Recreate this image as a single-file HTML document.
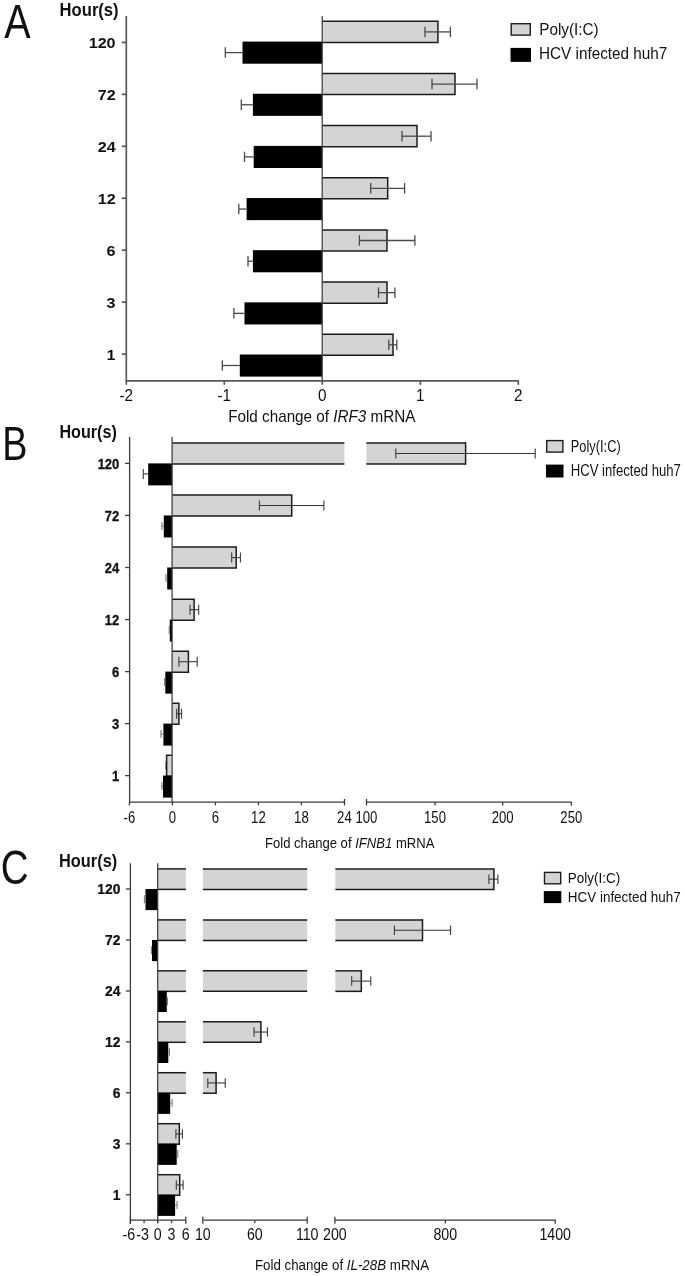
<!DOCTYPE html>
<html><head><meta charset="utf-8"><title>Figure</title>
<style>
html,body{margin:0;padding:0;background:#fff;}
svg{display:block;font-family:"Liberation Sans",sans-serif;fill:#111;will-change:transform;opacity:0.999;}
</style></head>
<body>
<svg width="685" height="1276" viewBox="0 0 685 1276">
<rect x="0" y="0" width="685" height="1276" fill="#ffffff"/>
<text transform="translate(4.30,37.80) scale(0.812,1)" font-size="48.7" text-anchor="start">A</text>
<text transform="translate(59.60,16.10) scale(0.87,1)" font-size="19.1" text-anchor="start" font-weight="bold">Hour(s)</text>
<path d="M322.20 21.30H437.90V42.40H322.20" fill="#d4d4d4" stroke="#1c1c1c" stroke-width="1.5" stroke-linejoin="miter"/>
<line x1="425.00" y1="31.90" x2="450.40" y2="31.90" stroke="#4a4a4a" stroke-width="1.3"/>
<line x1="425.00" y1="26.65" x2="425.00" y2="37.15" stroke="#4a4a4a" stroke-width="1.3"/>
<line x1="450.40" y1="26.65" x2="450.40" y2="37.15" stroke="#4a4a4a" stroke-width="1.3"/>
<rect x="242.50" y="41.60" width="79.70" height="22.10" fill="#000"/>
<line x1="225.30" y1="52.60" x2="242.50" y2="52.60" stroke="#4a4a4a" stroke-width="1.3"/>
<line x1="225.30" y1="47.35" x2="225.30" y2="57.85" stroke="#4a4a4a" stroke-width="1.3"/>
<line x1="121.80" y1="42.40" x2="126.30" y2="42.40" stroke="#585858" stroke-width="1.7"/>
<text transform="translate(115.60,47.90) scale(1.055,1)" font-size="15.3" text-anchor="end" font-weight="bold">120</text>
<path d="M322.20 73.45H455.00V94.55H322.20" fill="#d4d4d4" stroke="#1c1c1c" stroke-width="1.5" stroke-linejoin="miter"/>
<line x1="432.00" y1="84.05" x2="477.00" y2="84.05" stroke="#4a4a4a" stroke-width="1.3"/>
<line x1="432.00" y1="78.80" x2="432.00" y2="89.30" stroke="#4a4a4a" stroke-width="1.3"/>
<line x1="477.00" y1="78.80" x2="477.00" y2="89.30" stroke="#4a4a4a" stroke-width="1.3"/>
<rect x="252.90" y="93.75" width="69.30" height="22.10" fill="#000"/>
<line x1="241.30" y1="104.75" x2="252.90" y2="104.75" stroke="#4a4a4a" stroke-width="1.3"/>
<line x1="241.30" y1="99.50" x2="241.30" y2="110.00" stroke="#4a4a4a" stroke-width="1.3"/>
<line x1="121.80" y1="94.35" x2="126.30" y2="94.35" stroke="#585858" stroke-width="1.7"/>
<text transform="translate(115.60,99.85) scale(1.055,1)" font-size="15.3" text-anchor="end" font-weight="bold">72</text>
<path d="M322.20 125.60H417.00V146.70H322.20" fill="#d4d4d4" stroke="#1c1c1c" stroke-width="1.5" stroke-linejoin="miter"/>
<line x1="402.00" y1="136.20" x2="431.00" y2="136.20" stroke="#4a4a4a" stroke-width="1.3"/>
<line x1="402.00" y1="130.95" x2="402.00" y2="141.45" stroke="#4a4a4a" stroke-width="1.3"/>
<line x1="431.00" y1="130.95" x2="431.00" y2="141.45" stroke="#4a4a4a" stroke-width="1.3"/>
<rect x="253.70" y="145.90" width="68.50" height="22.10" fill="#000"/>
<line x1="244.50" y1="156.90" x2="253.70" y2="156.90" stroke="#4a4a4a" stroke-width="1.3"/>
<line x1="244.50" y1="151.65" x2="244.50" y2="162.15" stroke="#4a4a4a" stroke-width="1.3"/>
<line x1="121.80" y1="146.30" x2="126.30" y2="146.30" stroke="#585858" stroke-width="1.7"/>
<text transform="translate(115.60,151.80) scale(1.055,1)" font-size="15.3" text-anchor="end" font-weight="bold">24</text>
<path d="M322.20 177.75H387.70V198.85H322.20" fill="#d4d4d4" stroke="#1c1c1c" stroke-width="1.5" stroke-linejoin="miter"/>
<line x1="370.70" y1="188.35" x2="404.60" y2="188.35" stroke="#4a4a4a" stroke-width="1.3"/>
<line x1="370.70" y1="183.10" x2="370.70" y2="193.60" stroke="#4a4a4a" stroke-width="1.3"/>
<line x1="404.60" y1="183.10" x2="404.60" y2="193.60" stroke="#4a4a4a" stroke-width="1.3"/>
<rect x="246.60" y="198.05" width="75.60" height="22.10" fill="#000"/>
<line x1="238.80" y1="209.05" x2="246.60" y2="209.05" stroke="#4a4a4a" stroke-width="1.3"/>
<line x1="238.80" y1="203.80" x2="238.80" y2="214.30" stroke="#4a4a4a" stroke-width="1.3"/>
<line x1="121.80" y1="198.25" x2="126.30" y2="198.25" stroke="#585858" stroke-width="1.7"/>
<text transform="translate(115.60,203.75) scale(1.055,1)" font-size="15.3" text-anchor="end" font-weight="bold">12</text>
<path d="M322.20 229.90H387.00V251.00H322.20" fill="#d4d4d4" stroke="#1c1c1c" stroke-width="1.5" stroke-linejoin="miter"/>
<line x1="359.40" y1="240.50" x2="414.90" y2="240.50" stroke="#4a4a4a" stroke-width="1.3"/>
<line x1="359.40" y1="235.25" x2="359.40" y2="245.75" stroke="#4a4a4a" stroke-width="1.3"/>
<line x1="414.90" y1="235.25" x2="414.90" y2="245.75" stroke="#4a4a4a" stroke-width="1.3"/>
<rect x="252.90" y="250.20" width="69.30" height="22.10" fill="#000"/>
<line x1="248.00" y1="261.20" x2="252.90" y2="261.20" stroke="#4a4a4a" stroke-width="1.3"/>
<line x1="248.00" y1="255.95" x2="248.00" y2="266.45" stroke="#4a4a4a" stroke-width="1.3"/>
<line x1="121.80" y1="250.20" x2="126.30" y2="250.20" stroke="#585858" stroke-width="1.7"/>
<text transform="translate(115.60,255.70) scale(1.055,1)" font-size="15.3" text-anchor="end" font-weight="bold">6</text>
<path d="M322.20 282.05H387.00V303.15H322.20" fill="#d4d4d4" stroke="#1c1c1c" stroke-width="1.5" stroke-linejoin="miter"/>
<line x1="378.50" y1="292.65" x2="394.90" y2="292.65" stroke="#4a4a4a" stroke-width="1.3"/>
<line x1="378.50" y1="287.40" x2="378.50" y2="297.90" stroke="#4a4a4a" stroke-width="1.3"/>
<line x1="394.90" y1="287.40" x2="394.90" y2="297.90" stroke="#4a4a4a" stroke-width="1.3"/>
<rect x="244.50" y="302.35" width="77.70" height="22.10" fill="#000"/>
<line x1="233.90" y1="313.35" x2="244.50" y2="313.35" stroke="#4a4a4a" stroke-width="1.3"/>
<line x1="233.90" y1="308.10" x2="233.90" y2="318.60" stroke="#4a4a4a" stroke-width="1.3"/>
<line x1="121.80" y1="302.15" x2="126.30" y2="302.15" stroke="#585858" stroke-width="1.7"/>
<text transform="translate(115.60,307.65) scale(1.055,1)" font-size="15.3" text-anchor="end" font-weight="bold">3</text>
<path d="M322.20 334.20H393.00V355.30H322.20" fill="#d4d4d4" stroke="#1c1c1c" stroke-width="1.5" stroke-linejoin="miter"/>
<line x1="388.80" y1="344.80" x2="396.80" y2="344.80" stroke="#4a4a4a" stroke-width="1.3"/>
<line x1="388.80" y1="339.55" x2="388.80" y2="350.05" stroke="#4a4a4a" stroke-width="1.3"/>
<line x1="396.80" y1="339.55" x2="396.80" y2="350.05" stroke="#4a4a4a" stroke-width="1.3"/>
<rect x="239.80" y="354.50" width="82.40" height="22.10" fill="#000"/>
<line x1="222.30" y1="365.50" x2="239.80" y2="365.50" stroke="#4a4a4a" stroke-width="1.3"/>
<line x1="222.30" y1="360.25" x2="222.30" y2="370.75" stroke="#4a4a4a" stroke-width="1.3"/>
<line x1="121.80" y1="354.10" x2="126.30" y2="354.10" stroke="#585858" stroke-width="1.7"/>
<text transform="translate(115.60,359.60) scale(1.055,1)" font-size="15.3" text-anchor="end" font-weight="bold">1</text>
<line x1="126.30" y1="16.00" x2="126.30" y2="380.80" stroke="#585858" stroke-width="1.7"/>
<line x1="322.20" y1="16.00" x2="322.20" y2="381.40" stroke="#3c3c3c" stroke-width="1.25"/>
<line x1="125.70" y1="380.80" x2="518.60" y2="380.80" stroke="#585858" stroke-width="1.7"/>
<line x1="126.30" y1="380.80" x2="126.30" y2="384.80" stroke="#585858" stroke-width="1.7"/>
<text transform="translate(126.30,401.40) scale(0.96,1)" font-size="15.9" text-anchor="middle">-2</text>
<line x1="224.30" y1="380.80" x2="224.30" y2="384.80" stroke="#585858" stroke-width="1.7"/>
<text transform="translate(224.30,401.40) scale(0.96,1)" font-size="15.9" text-anchor="middle">-1</text>
<line x1="322.30" y1="380.80" x2="322.30" y2="384.80" stroke="#585858" stroke-width="1.7"/>
<text transform="translate(322.30,401.40) scale(0.96,1)" font-size="15.9" text-anchor="middle">0</text>
<line x1="420.30" y1="380.80" x2="420.30" y2="384.80" stroke="#585858" stroke-width="1.7"/>
<text transform="translate(420.30,401.40) scale(0.96,1)" font-size="15.9" text-anchor="middle">1</text>
<line x1="518.30" y1="380.80" x2="518.30" y2="384.80" stroke="#585858" stroke-width="1.7"/>
<text transform="translate(518.30,401.40) scale(0.96,1)" font-size="15.9" text-anchor="middle">2</text>
<text transform="translate(228.20,422.30) scale(0.965,1)" font-size="15.8" text-anchor="start">Fold change of <tspan font-style="italic">IRF3</tspan> mRNA</text>
<rect x="511.20" y="23.70" width="19.10" height="11.40" fill="#d4d4d4" stroke="#1c1c1c" stroke-width="1.4"/>
<rect x="510.50" y="47.90" width="20.50" height="14.00" fill="#000"/>
<text transform="translate(539.20,34.50) scale(0.98,1)" font-size="15.6" text-anchor="start">Poly(I:C)</text>
<text transform="translate(539.00,59.00) scale(0.98,1)" font-size="15.6" text-anchor="start">HCV infected huh7</text>
<text transform="translate(2.30,459.90) scale(0.773,1)" font-size="48.8" text-anchor="start">B</text>
<text transform="translate(59.40,438.30) scale(0.846,1)" font-size="19.1" text-anchor="start" font-weight="bold">Hour(s)</text>
<rect x="172.10" y="443.00" width="172.30" height="21.00" fill="#d4d4d4"/>
<line x1="172.10" y1="443.00" x2="344.40" y2="443.00" stroke="#1c1c1c" stroke-width="1.5"/>
<line x1="172.10" y1="464.00" x2="344.40" y2="464.00" stroke="#1c1c1c" stroke-width="1.5"/>
<rect x="366.30" y="443.00" width="99.50" height="21.00" fill="#d4d4d4"/>
<line x1="366.30" y1="443.00" x2="465.80" y2="443.00" stroke="#1c1c1c" stroke-width="1.5"/>
<line x1="366.30" y1="464.00" x2="465.80" y2="464.00" stroke="#1c1c1c" stroke-width="1.5"/>
<line x1="465.60" y1="442.30" x2="465.60" y2="464.70" stroke="#1c1c1c" stroke-width="1.5"/>
<line x1="395.80" y1="453.50" x2="535.20" y2="453.50" stroke="#333333" stroke-width="1.05"/>
<line x1="395.80" y1="448.50" x2="395.80" y2="458.50" stroke="#333333" stroke-width="1.05"/>
<line x1="535.20" y1="448.50" x2="535.20" y2="458.50" stroke="#333333" stroke-width="1.05"/>
<rect x="148.20" y="463.40" width="23.90" height="22.00" fill="#000"/>
<line x1="143.30" y1="473.90" x2="148.20" y2="473.90" stroke="#333333" stroke-width="1.05"/>
<line x1="143.30" y1="468.90" x2="143.30" y2="478.90" stroke="#333333" stroke-width="1.05"/>
<line x1="125.10" y1="463.40" x2="129.60" y2="463.40" stroke="#3c3c3c" stroke-width="1.3"/>
<text transform="translate(119.30,468.75) scale(0.866,1)" font-size="15.0" text-anchor="end" font-weight="bold" stroke="#111" stroke-width="0.3">120</text>
<path d="M172.10 495.05H291.70V516.05H172.10" fill="#d4d4d4" stroke="#1c1c1c" stroke-width="1.5" stroke-linejoin="miter"/>
<line x1="259.40" y1="505.55" x2="323.90" y2="505.55" stroke="#333333" stroke-width="1.05"/>
<line x1="259.40" y1="500.55" x2="259.40" y2="510.55" stroke="#333333" stroke-width="1.05"/>
<line x1="323.90" y1="500.55" x2="323.90" y2="510.55" stroke="#333333" stroke-width="1.05"/>
<rect x="163.80" y="515.45" width="8.30" height="22.00" fill="#000"/>
<line x1="161.90" y1="525.95" x2="163.80" y2="525.95" stroke="#777" stroke-width="1.05"/>
<line x1="161.90" y1="521.95" x2="161.90" y2="529.95" stroke="#777" stroke-width="1.05"/>
<line x1="125.10" y1="515.45" x2="129.60" y2="515.45" stroke="#3c3c3c" stroke-width="1.3"/>
<text transform="translate(119.30,520.80) scale(0.866,1)" font-size="15.0" text-anchor="end" font-weight="bold" stroke="#111" stroke-width="0.3">72</text>
<path d="M172.10 547.10H236.20V568.10H172.10" fill="#d4d4d4" stroke="#1c1c1c" stroke-width="1.5" stroke-linejoin="miter"/>
<line x1="231.70" y1="557.60" x2="240.40" y2="557.60" stroke="#333333" stroke-width="1.05"/>
<line x1="231.70" y1="552.60" x2="231.70" y2="562.60" stroke="#333333" stroke-width="1.05"/>
<line x1="240.40" y1="552.60" x2="240.40" y2="562.60" stroke="#333333" stroke-width="1.05"/>
<rect x="167.20" y="567.50" width="4.90" height="22.00" fill="#000"/>
<line x1="166.00" y1="578.00" x2="167.20" y2="578.00" stroke="#777" stroke-width="1.05"/>
<line x1="166.00" y1="574.00" x2="166.00" y2="582.00" stroke="#777" stroke-width="1.05"/>
<line x1="125.10" y1="567.50" x2="129.60" y2="567.50" stroke="#3c3c3c" stroke-width="1.3"/>
<text transform="translate(119.30,572.85) scale(0.866,1)" font-size="15.0" text-anchor="end" font-weight="bold" stroke="#111" stroke-width="0.3">24</text>
<path d="M172.10 599.15H194.10V620.15H172.10" fill="#d4d4d4" stroke="#1c1c1c" stroke-width="1.5" stroke-linejoin="miter"/>
<line x1="190.00" y1="609.65" x2="198.70" y2="609.65" stroke="#333333" stroke-width="1.05"/>
<line x1="190.00" y1="604.65" x2="190.00" y2="614.65" stroke="#333333" stroke-width="1.05"/>
<line x1="198.70" y1="604.65" x2="198.70" y2="614.65" stroke="#333333" stroke-width="1.05"/>
<rect x="169.80" y="619.55" width="2.30" height="22.00" fill="#000"/>
<line x1="169.20" y1="630.05" x2="169.80" y2="630.05" stroke="#777" stroke-width="1.05"/>
<line x1="169.20" y1="626.05" x2="169.20" y2="634.05" stroke="#777" stroke-width="1.05"/>
<line x1="125.10" y1="619.55" x2="129.60" y2="619.55" stroke="#3c3c3c" stroke-width="1.3"/>
<text transform="translate(119.30,624.90) scale(0.866,1)" font-size="15.0" text-anchor="end" font-weight="bold" stroke="#111" stroke-width="0.3">12</text>
<path d="M172.10 651.20H188.40V672.20H172.10" fill="#d4d4d4" stroke="#1c1c1c" stroke-width="1.5" stroke-linejoin="miter"/>
<line x1="178.90" y1="661.70" x2="197.20" y2="661.70" stroke="#333333" stroke-width="1.05"/>
<line x1="178.90" y1="656.70" x2="178.90" y2="666.70" stroke="#333333" stroke-width="1.05"/>
<line x1="197.20" y1="656.70" x2="197.20" y2="666.70" stroke="#333333" stroke-width="1.05"/>
<rect x="165.30" y="671.60" width="6.80" height="22.00" fill="#000"/>
<line x1="164.60" y1="682.10" x2="165.30" y2="682.10" stroke="#777" stroke-width="1.05"/>
<line x1="164.60" y1="678.10" x2="164.60" y2="686.10" stroke="#777" stroke-width="1.05"/>
<line x1="125.10" y1="671.60" x2="129.60" y2="671.60" stroke="#3c3c3c" stroke-width="1.3"/>
<text transform="translate(119.30,676.95) scale(0.866,1)" font-size="15.0" text-anchor="end" font-weight="bold" stroke="#111" stroke-width="0.3">6</text>
<path d="M172.10 703.20H178.90V724.20H172.10" fill="#d4d4d4" stroke="#1c1c1c" stroke-width="1.5" stroke-linejoin="miter"/>
<line x1="176.70" y1="713.70" x2="181.60" y2="713.70" stroke="#333333" stroke-width="1.05"/>
<line x1="176.70" y1="708.70" x2="176.70" y2="718.70" stroke="#333333" stroke-width="1.05"/>
<line x1="181.60" y1="708.70" x2="181.60" y2="718.70" stroke="#333333" stroke-width="1.05"/>
<rect x="163.40" y="723.60" width="8.70" height="22.00" fill="#000"/>
<line x1="161.00" y1="734.10" x2="163.40" y2="734.10" stroke="#777" stroke-width="1.05"/>
<line x1="161.00" y1="730.10" x2="161.00" y2="738.10" stroke="#777" stroke-width="1.05"/>
<line x1="125.10" y1="723.60" x2="129.60" y2="723.60" stroke="#3c3c3c" stroke-width="1.3"/>
<text transform="translate(119.30,728.95) scale(0.866,1)" font-size="15.0" text-anchor="end" font-weight="bold" stroke="#111" stroke-width="0.3">3</text>
<path d="M172.10 755.20H166.60V776.20H172.10" fill="#d4d4d4" stroke="#1c1c1c" stroke-width="1.5" stroke-linejoin="miter"/>
<line x1="166.30" y1="761.60" x2="166.30" y2="769.60" stroke="#222" stroke-width="1.6"/>
<rect x="163.00" y="775.60" width="9.10" height="22.00" fill="#000"/>
<line x1="161.90" y1="786.10" x2="163.00" y2="786.10" stroke="#777" stroke-width="1.05"/>
<line x1="161.90" y1="782.10" x2="161.90" y2="790.10" stroke="#777" stroke-width="1.05"/>
<line x1="125.10" y1="775.60" x2="129.60" y2="775.60" stroke="#3c3c3c" stroke-width="1.3"/>
<text transform="translate(119.30,780.95) scale(0.866,1)" font-size="15.0" text-anchor="end" font-weight="bold" stroke="#111" stroke-width="0.3">1</text>
<line x1="129.60" y1="436.90" x2="129.60" y2="802.20" stroke="#3c3c3c" stroke-width="1.3"/>
<line x1="172.10" y1="436.90" x2="172.10" y2="802.80" stroke="#3c3c3c" stroke-width="1.25"/>
<line x1="129.00" y1="802.20" x2="344.40" y2="802.20" stroke="#3c3c3c" stroke-width="1.3"/>
<line x1="366.40" y1="802.20" x2="571.30" y2="802.20" stroke="#3c3c3c" stroke-width="1.3"/>
<line x1="129.40" y1="802.20" x2="129.40" y2="805.40" stroke="#3c3c3c" stroke-width="1.3"/>
<text transform="translate(129.40,822.60) scale(0.82,1)" font-size="16" text-anchor="middle">-6</text>
<line x1="172.40" y1="802.20" x2="172.40" y2="805.40" stroke="#3c3c3c" stroke-width="1.3"/>
<text transform="translate(172.40,822.60) scale(0.82,1)" font-size="16" text-anchor="middle">0</text>
<line x1="215.40" y1="802.20" x2="215.40" y2="805.40" stroke="#3c3c3c" stroke-width="1.3"/>
<text transform="translate(215.40,822.60) scale(0.82,1)" font-size="16" text-anchor="middle">6</text>
<line x1="258.40" y1="802.20" x2="258.40" y2="805.40" stroke="#3c3c3c" stroke-width="1.3"/>
<text transform="translate(258.40,822.60) scale(0.82,1)" font-size="16" text-anchor="middle">12</text>
<line x1="301.40" y1="802.20" x2="301.40" y2="805.40" stroke="#3c3c3c" stroke-width="1.3"/>
<text transform="translate(301.40,822.60) scale(0.82,1)" font-size="16" text-anchor="middle">18</text>
<text transform="translate(344.40,822.60) scale(0.82,1)" font-size="16" text-anchor="middle">24</text>
<line x1="344.50" y1="799.00" x2="344.50" y2="805.40" stroke="#3c3c3c" stroke-width="1.3"/>
<line x1="366.50" y1="799.00" x2="366.50" y2="805.40" stroke="#3c3c3c" stroke-width="1.3"/>
<line x1="571.40" y1="801.60" x2="571.40" y2="805.70" stroke="#3c3c3c" stroke-width="1.3"/>
<text transform="translate(366.40,822.60) scale(0.82,1)" font-size="16" text-anchor="middle">100</text>
<line x1="435.00" y1="802.20" x2="435.00" y2="805.40" stroke="#3c3c3c" stroke-width="1.3"/>
<text transform="translate(435.00,822.60) scale(0.82,1)" font-size="16" text-anchor="middle">150</text>
<line x1="502.70" y1="802.20" x2="502.70" y2="805.40" stroke="#3c3c3c" stroke-width="1.3"/>
<text transform="translate(502.70,822.60) scale(0.82,1)" font-size="16" text-anchor="middle">200</text>
<text transform="translate(571.30,822.60) scale(0.82,1)" font-size="16" text-anchor="middle">250</text>
<text transform="translate(265.00,847.70) scale(0.873,1)" font-size="15.0" text-anchor="start">Fold change of <tspan font-style="italic">IFNB1</tspan> mRNA</text>
<rect x="546.70" y="440.60" width="16.20" height="11.50" fill="#d4d4d4" stroke="#1c1c1c" stroke-width="1.4"/>
<rect x="546.00" y="464.60" width="17.50" height="12.90" fill="#000"/>
<text transform="translate(570.80,451.90) scale(0.808,1)" font-size="15.9" text-anchor="start">Poly(I:C)</text>
<text transform="translate(570.70,476.40) scale(0.826,1)" font-size="15.9" text-anchor="start">HCV infected huh7</text>
<text transform="translate(0.70,884.30) scale(0.79,1)" font-size="48.8" text-anchor="start">C</text>
<text transform="translate(59.00,866.80) scale(0.89,1)" font-size="18.4" text-anchor="start" font-weight="bold">Hour(s)</text>
<rect x="157.70" y="868.90" width="28.20" height="20.50" fill="#d4d4d4"/>
<line x1="157.70" y1="868.90" x2="185.90" y2="868.90" stroke="#1c1c1c" stroke-width="1.5"/>
<line x1="157.70" y1="889.40" x2="185.90" y2="889.40" stroke="#1c1c1c" stroke-width="1.5"/>
<rect x="202.90" y="868.90" width="104.30" height="20.50" fill="#d4d4d4"/>
<line x1="202.90" y1="868.90" x2="307.20" y2="868.90" stroke="#1c1c1c" stroke-width="1.5"/>
<line x1="202.90" y1="889.40" x2="307.20" y2="889.40" stroke="#1c1c1c" stroke-width="1.5"/>
<rect x="335.40" y="868.90" width="158.50" height="20.50" fill="#d4d4d4"/>
<line x1="335.40" y1="868.90" x2="493.90" y2="868.90" stroke="#1c1c1c" stroke-width="1.5"/>
<line x1="335.40" y1="889.40" x2="493.90" y2="889.40" stroke="#1c1c1c" stroke-width="1.5"/>
<line x1="493.90" y1="868.15" x2="493.90" y2="890.15" stroke="#1c1c1c" stroke-width="1.5"/>
<line x1="488.90" y1="879.15" x2="497.90" y2="879.15" stroke="#333333" stroke-width="1.05"/>
<line x1="488.90" y1="874.40" x2="488.90" y2="883.90" stroke="#333333" stroke-width="1.05"/>
<line x1="497.90" y1="874.40" x2="497.90" y2="883.90" stroke="#333333" stroke-width="1.05"/>
<rect x="145.50" y="889.00" width="12.20" height="21.10" fill="#000"/>
<line x1="144.40" y1="899.30" x2="145.50" y2="899.30" stroke="#777" stroke-width="1.05"/>
<line x1="144.40" y1="895.30" x2="144.40" y2="903.30" stroke="#777" stroke-width="1.05"/>
<line x1="125.90" y1="889.00" x2="130.40" y2="889.00" stroke="#3c3c3c" stroke-width="1.3"/>
<text transform="translate(120.40,894.20) scale(0.91,1)" font-size="15.2" text-anchor="end" font-weight="bold" stroke="#111" stroke-width="0.25">120</text>
<rect x="157.70" y="919.90" width="28.20" height="20.50" fill="#d4d4d4"/>
<line x1="157.70" y1="919.90" x2="185.90" y2="919.90" stroke="#1c1c1c" stroke-width="1.5"/>
<line x1="157.70" y1="940.40" x2="185.90" y2="940.40" stroke="#1c1c1c" stroke-width="1.5"/>
<rect x="202.90" y="919.90" width="104.30" height="20.50" fill="#d4d4d4"/>
<line x1="202.90" y1="919.90" x2="307.20" y2="919.90" stroke="#1c1c1c" stroke-width="1.5"/>
<line x1="202.90" y1="940.40" x2="307.20" y2="940.40" stroke="#1c1c1c" stroke-width="1.5"/>
<rect x="335.40" y="919.90" width="87.10" height="20.50" fill="#d4d4d4"/>
<line x1="335.40" y1="919.90" x2="422.50" y2="919.90" stroke="#1c1c1c" stroke-width="1.5"/>
<line x1="335.40" y1="940.40" x2="422.50" y2="940.40" stroke="#1c1c1c" stroke-width="1.5"/>
<line x1="422.50" y1="919.15" x2="422.50" y2="941.15" stroke="#1c1c1c" stroke-width="1.5"/>
<line x1="394.40" y1="930.15" x2="450.60" y2="930.15" stroke="#333333" stroke-width="1.05"/>
<line x1="394.40" y1="925.40" x2="394.40" y2="934.90" stroke="#333333" stroke-width="1.05"/>
<line x1="450.60" y1="925.40" x2="450.60" y2="934.90" stroke="#333333" stroke-width="1.05"/>
<rect x="152.00" y="940.00" width="5.70" height="21.10" fill="#000"/>
<line x1="151.40" y1="950.30" x2="152.00" y2="950.30" stroke="#777" stroke-width="1.05"/>
<line x1="151.40" y1="946.30" x2="151.40" y2="954.30" stroke="#777" stroke-width="1.05"/>
<line x1="125.90" y1="940.00" x2="130.40" y2="940.00" stroke="#3c3c3c" stroke-width="1.3"/>
<text transform="translate(120.40,945.20) scale(0.91,1)" font-size="15.2" text-anchor="end" font-weight="bold" stroke="#111" stroke-width="0.25">72</text>
<rect x="157.70" y="970.85" width="28.20" height="20.50" fill="#d4d4d4"/>
<line x1="157.70" y1="970.85" x2="185.90" y2="970.85" stroke="#1c1c1c" stroke-width="1.5"/>
<line x1="157.70" y1="991.35" x2="185.90" y2="991.35" stroke="#1c1c1c" stroke-width="1.5"/>
<rect x="202.90" y="970.85" width="104.30" height="20.50" fill="#d4d4d4"/>
<line x1="202.90" y1="970.85" x2="307.20" y2="970.85" stroke="#1c1c1c" stroke-width="1.5"/>
<line x1="202.90" y1="991.35" x2="307.20" y2="991.35" stroke="#1c1c1c" stroke-width="1.5"/>
<rect x="335.40" y="970.85" width="25.90" height="20.50" fill="#d4d4d4"/>
<line x1="335.40" y1="970.85" x2="361.30" y2="970.85" stroke="#1c1c1c" stroke-width="1.5"/>
<line x1="335.40" y1="991.35" x2="361.30" y2="991.35" stroke="#1c1c1c" stroke-width="1.5"/>
<line x1="361.30" y1="970.10" x2="361.30" y2="992.10" stroke="#1c1c1c" stroke-width="1.5"/>
<line x1="351.70" y1="981.10" x2="370.80" y2="981.10" stroke="#333333" stroke-width="1.05"/>
<line x1="351.70" y1="976.35" x2="351.70" y2="985.85" stroke="#333333" stroke-width="1.05"/>
<line x1="370.80" y1="976.35" x2="370.80" y2="985.85" stroke="#333333" stroke-width="1.05"/>
<rect x="157.70" y="990.95" width="9.10" height="21.10" fill="#000"/>
<line x1="166.80" y1="1001.25" x2="167.40" y2="1001.25" stroke="#777" stroke-width="1.05"/>
<line x1="167.40" y1="997.25" x2="167.40" y2="1005.25" stroke="#777" stroke-width="1.05"/>
<line x1="125.90" y1="990.95" x2="130.40" y2="990.95" stroke="#3c3c3c" stroke-width="1.3"/>
<text transform="translate(120.40,996.15) scale(0.91,1)" font-size="15.2" text-anchor="end" font-weight="bold" stroke="#111" stroke-width="0.25">24</text>
<rect x="157.70" y="1021.80" width="28.20" height="20.50" fill="#d4d4d4"/>
<line x1="157.70" y1="1021.80" x2="185.90" y2="1021.80" stroke="#1c1c1c" stroke-width="1.5"/>
<line x1="157.70" y1="1042.30" x2="185.90" y2="1042.30" stroke="#1c1c1c" stroke-width="1.5"/>
<rect x="202.90" y="1021.80" width="58.00" height="20.50" fill="#d4d4d4"/>
<line x1="202.90" y1="1021.80" x2="260.90" y2="1021.80" stroke="#1c1c1c" stroke-width="1.5"/>
<line x1="202.90" y1="1042.30" x2="260.90" y2="1042.30" stroke="#1c1c1c" stroke-width="1.5"/>
<line x1="260.90" y1="1021.05" x2="260.90" y2="1043.05" stroke="#1c1c1c" stroke-width="1.5"/>
<line x1="254.00" y1="1032.05" x2="267.40" y2="1032.05" stroke="#333333" stroke-width="1.05"/>
<line x1="254.00" y1="1027.30" x2="254.00" y2="1036.80" stroke="#333333" stroke-width="1.05"/>
<line x1="267.40" y1="1027.30" x2="267.40" y2="1036.80" stroke="#333333" stroke-width="1.05"/>
<rect x="157.70" y="1041.90" width="10.60" height="21.10" fill="#000"/>
<line x1="168.30" y1="1052.20" x2="169.50" y2="1052.20" stroke="#777" stroke-width="1.05"/>
<line x1="169.50" y1="1048.20" x2="169.50" y2="1056.20" stroke="#777" stroke-width="1.05"/>
<line x1="125.90" y1="1041.90" x2="130.40" y2="1041.90" stroke="#3c3c3c" stroke-width="1.3"/>
<text transform="translate(120.40,1047.10) scale(0.91,1)" font-size="15.2" text-anchor="end" font-weight="bold" stroke="#111" stroke-width="0.25">12</text>
<rect x="157.70" y="1072.70" width="28.20" height="20.50" fill="#d4d4d4"/>
<line x1="157.70" y1="1072.70" x2="185.90" y2="1072.70" stroke="#1c1c1c" stroke-width="1.5"/>
<line x1="157.70" y1="1093.20" x2="185.90" y2="1093.20" stroke="#1c1c1c" stroke-width="1.5"/>
<rect x="202.90" y="1072.70" width="13.20" height="20.50" fill="#d4d4d4"/>
<line x1="202.90" y1="1072.70" x2="216.10" y2="1072.70" stroke="#1c1c1c" stroke-width="1.5"/>
<line x1="202.90" y1="1093.20" x2="216.10" y2="1093.20" stroke="#1c1c1c" stroke-width="1.5"/>
<line x1="216.10" y1="1071.95" x2="216.10" y2="1093.95" stroke="#1c1c1c" stroke-width="1.5"/>
<line x1="207.80" y1="1082.95" x2="225.20" y2="1082.95" stroke="#333333" stroke-width="1.05"/>
<line x1="207.80" y1="1078.20" x2="207.80" y2="1087.70" stroke="#333333" stroke-width="1.05"/>
<line x1="225.20" y1="1078.20" x2="225.20" y2="1087.70" stroke="#333333" stroke-width="1.05"/>
<rect x="157.70" y="1092.80" width="12.50" height="21.10" fill="#000"/>
<line x1="170.20" y1="1103.10" x2="172.10" y2="1103.10" stroke="#777" stroke-width="1.05"/>
<line x1="172.10" y1="1099.10" x2="172.10" y2="1107.10" stroke="#777" stroke-width="1.05"/>
<line x1="125.90" y1="1092.80" x2="130.40" y2="1092.80" stroke="#3c3c3c" stroke-width="1.3"/>
<text transform="translate(120.40,1098.00) scale(0.91,1)" font-size="15.2" text-anchor="end" font-weight="bold" stroke="#111" stroke-width="0.25">6</text>
<rect x="157.70" y="1123.70" width="21.60" height="20.50" fill="#d4d4d4"/>
<line x1="157.70" y1="1123.70" x2="179.30" y2="1123.70" stroke="#1c1c1c" stroke-width="1.5"/>
<line x1="157.70" y1="1144.20" x2="179.30" y2="1144.20" stroke="#1c1c1c" stroke-width="1.5"/>
<line x1="179.30" y1="1122.95" x2="179.30" y2="1144.95" stroke="#1c1c1c" stroke-width="1.5"/>
<line x1="175.90" y1="1133.95" x2="182.40" y2="1133.95" stroke="#333333" stroke-width="1.05"/>
<line x1="175.90" y1="1129.20" x2="175.90" y2="1138.70" stroke="#333333" stroke-width="1.05"/>
<line x1="182.40" y1="1129.20" x2="182.40" y2="1138.70" stroke="#333333" stroke-width="1.05"/>
<rect x="157.70" y="1143.80" width="19.00" height="21.10" fill="#000"/>
<line x1="176.70" y1="1154.10" x2="177.80" y2="1154.10" stroke="#777" stroke-width="1.05"/>
<line x1="177.80" y1="1150.10" x2="177.80" y2="1158.10" stroke="#777" stroke-width="1.05"/>
<line x1="125.90" y1="1143.80" x2="130.40" y2="1143.80" stroke="#3c3c3c" stroke-width="1.3"/>
<text transform="translate(120.40,1149.00) scale(0.91,1)" font-size="15.2" text-anchor="end" font-weight="bold" stroke="#111" stroke-width="0.25">3</text>
<rect x="157.70" y="1174.70" width="22.00" height="20.50" fill="#d4d4d4"/>
<line x1="157.70" y1="1174.70" x2="179.70" y2="1174.70" stroke="#1c1c1c" stroke-width="1.5"/>
<line x1="157.70" y1="1195.20" x2="179.70" y2="1195.20" stroke="#1c1c1c" stroke-width="1.5"/>
<line x1="179.70" y1="1173.95" x2="179.70" y2="1195.95" stroke="#1c1c1c" stroke-width="1.5"/>
<line x1="176.30" y1="1184.95" x2="183.10" y2="1184.95" stroke="#333333" stroke-width="1.05"/>
<line x1="176.30" y1="1180.20" x2="176.30" y2="1189.70" stroke="#333333" stroke-width="1.05"/>
<line x1="183.10" y1="1180.20" x2="183.10" y2="1189.70" stroke="#333333" stroke-width="1.05"/>
<rect x="157.70" y="1194.80" width="17.40" height="21.10" fill="#000"/>
<line x1="175.10" y1="1205.10" x2="177.00" y2="1205.10" stroke="#777" stroke-width="1.05"/>
<line x1="177.00" y1="1201.10" x2="177.00" y2="1209.10" stroke="#777" stroke-width="1.05"/>
<line x1="125.90" y1="1194.80" x2="130.40" y2="1194.80" stroke="#3c3c3c" stroke-width="1.3"/>
<text transform="translate(120.40,1200.00) scale(0.91,1)" font-size="15.2" text-anchor="end" font-weight="bold" stroke="#111" stroke-width="0.25">1</text>
<line x1="130.40" y1="863.30" x2="130.40" y2="1223.70" stroke="#3c3c3c" stroke-width="1.3"/>
<line x1="157.70" y1="863.30" x2="157.70" y2="1223.20" stroke="#3c3c3c" stroke-width="1.25"/>
<line x1="130.40" y1="1220.20" x2="185.90" y2="1220.20" stroke="#3c3c3c" stroke-width="1.3"/>
<line x1="203.20" y1="1220.20" x2="307.20" y2="1220.20" stroke="#3c3c3c" stroke-width="1.3"/>
<line x1="334.90" y1="1220.20" x2="555.20" y2="1220.20" stroke="#3c3c3c" stroke-width="1.3"/>
<line x1="130.40" y1="1216.70" x2="130.40" y2="1223.70" stroke="#3c3c3c" stroke-width="1.3"/>
<text transform="translate(128.90,1240.00) scale(0.9,1)" font-size="15.8" text-anchor="middle">-6</text>
<line x1="144.10" y1="1220.20" x2="144.10" y2="1223.20" stroke="#3c3c3c" stroke-width="1.3"/>
<text transform="translate(142.60,1240.00) scale(0.9,1)" font-size="15.8" text-anchor="middle">-3</text>
<line x1="157.70" y1="1220.20" x2="157.70" y2="1223.20" stroke="#3c3c3c" stroke-width="1.3"/>
<text transform="translate(157.70,1240.00) scale(0.9,1)" font-size="15.8" text-anchor="middle">0</text>
<line x1="171.50" y1="1220.20" x2="171.50" y2="1223.20" stroke="#3c3c3c" stroke-width="1.3"/>
<text transform="translate(171.50,1240.00) scale(0.9,1)" font-size="15.8" text-anchor="middle">3</text>
<line x1="185.80" y1="1216.70" x2="185.80" y2="1223.70" stroke="#3c3c3c" stroke-width="1.3"/>
<text transform="translate(185.80,1240.00) scale(0.9,1)" font-size="15.8" text-anchor="middle">6</text>
<line x1="202.80" y1="1216.70" x2="202.80" y2="1223.70" stroke="#3c3c3c" stroke-width="1.3"/>
<text transform="translate(202.80,1240.00) scale(0.9,1)" font-size="15.8" text-anchor="middle">10</text>
<line x1="254.80" y1="1220.20" x2="254.80" y2="1223.20" stroke="#3c3c3c" stroke-width="1.3"/>
<text transform="translate(254.80,1240.00) scale(0.9,1)" font-size="15.8" text-anchor="middle">60</text>
<line x1="307.20" y1="1216.70" x2="307.20" y2="1223.70" stroke="#3c3c3c" stroke-width="1.3"/>
<text transform="translate(307.20,1240.00) scale(0.9,1)" font-size="15.8" text-anchor="middle">110</text>
<line x1="334.90" y1="1216.70" x2="334.90" y2="1223.70" stroke="#3c3c3c" stroke-width="1.3"/>
<text transform="translate(334.90,1240.00) scale(0.9,1)" font-size="15.8" text-anchor="middle">200</text>
<line x1="445.30" y1="1220.20" x2="445.30" y2="1223.40" stroke="#3c3c3c" stroke-width="1.3"/>
<text transform="translate(445.30,1240.00) scale(0.9,1)" font-size="15.8" text-anchor="middle">800</text>
<line x1="555.20" y1="1219.60" x2="555.20" y2="1223.70" stroke="#3c3c3c" stroke-width="1.3"/>
<text transform="translate(555.20,1240.00) scale(0.9,1)" font-size="15.8" text-anchor="middle">1400</text>
<text transform="translate(254.90,1270.00) scale(0.872,1)" font-size="15.3" text-anchor="start">Fold change of <tspan font-style="italic">IL-28B</tspan> mRNA</text>
<rect x="544.50" y="872.40" width="16.20" height="11.40" fill="#d4d4d4" stroke="#1c1c1c" stroke-width="1.4"/>
<rect x="543.80" y="891.10" width="17.50" height="12.00" fill="#000"/>
<text transform="translate(567.80,883.40) scale(0.9,1)" font-size="15" text-anchor="start">Poly(I:C)</text>
<text transform="translate(567.80,902.00) scale(0.897,1)" font-size="15" text-anchor="start">HCV infected huh7</text>
</svg>
</body></html>
